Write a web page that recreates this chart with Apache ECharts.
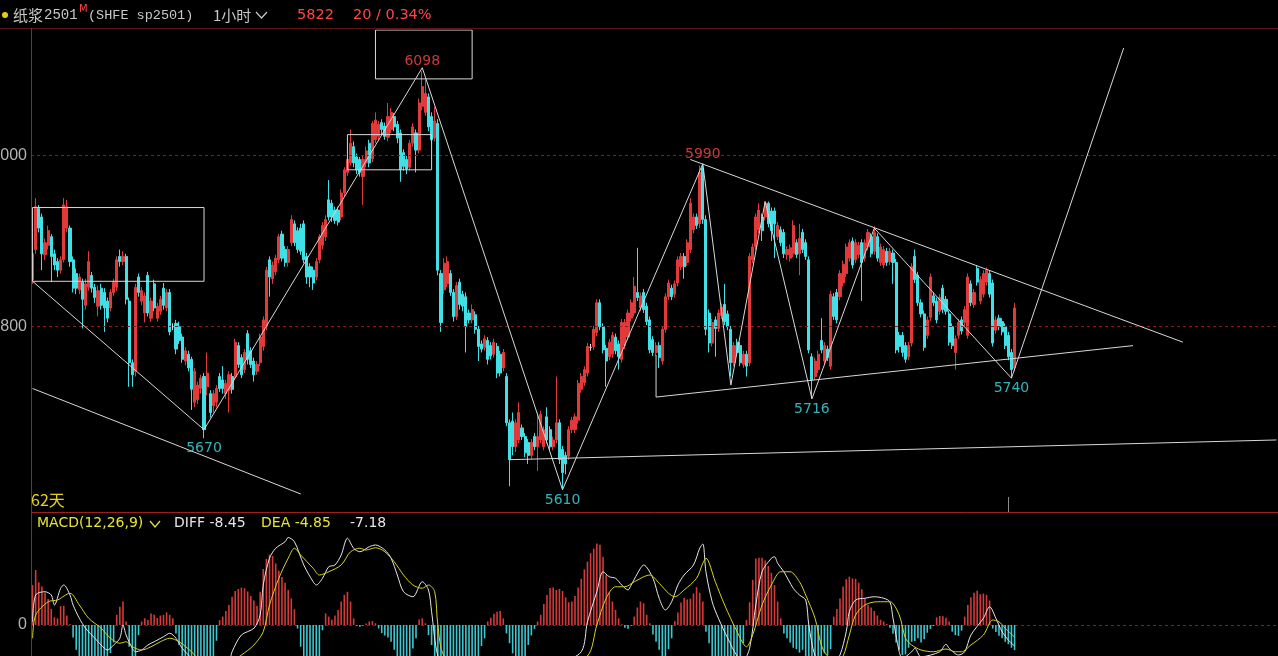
<!DOCTYPE html>
<html>
<head>
<meta charset="utf-8">
<style>
html, body { margin: 0; padding: 0; background: #000; }
#main { width: 1278px; height: 656px; }
</style>
<script src="https://cdn.jsdelivr.net/npm/echarts@6/dist/echarts.min.js"></script>
</head>
<body>
<div id="main"></div>
<script>
// hourly bars, [open, close, low, high]
const bars = [
  // first swing, down to 5670
  [5855,5885,5850,5890],[5890,5940,5885,5950],[5938,5915,5910,5942],[5928,5885,5866,5932],
  [5884,5898,5878,5903],[5895,5912,5890,5918],[5905,5882,5852,5908],[5885,5872,5866,5890],
  [5876,5866,5858,5880],[5866,5878,5862,5882],[5878,5942,5875,5950],[5915,5940,5910,5948],
  [5915,5876,5870,5918],[5878,5845,5840,5882],[5862,5845,5838,5868],[5843,5858,5838,5862],
  [5852,5832,5798,5856],[5825,5850,5820,5856],[5846,5876,5842,5888],[5860,5845,5840,5864],
  [5846,5834,5828,5850],[5824,5842,5812,5848],[5845,5825,5820,5850],[5840,5822,5794,5845],
  [5830,5810,5805,5834],[5822,5840,5818,5844],[5840,5852,5836,5856],[5846,5878,5842,5882],
  [5882,5876,5870,5890],[5876,5882,5872,5888],[5882,5832,5826,5885],[5830,5758,5730,5834],
  [5758,5744,5730,5762],[5748,5846,5742,5850],[5858,5840,5835,5862],[5830,5842,5825,5846],
  [5816,5836,5805,5840],[5860,5816,5812,5864],[5810,5830,5806,5834],[5850,5822,5818,5855],
  [5810,5824,5806,5828],[5818,5832,5814,5836],[5845,5825,5820,5851],[5822,5840,5818,5844],
  [5840,5794,5790,5844],[5800,5800,5796,5804],[5804,5774,5768,5808],[5800,5784,5780,5806],
  [5788,5762,5758,5792],[5760,5772,5755,5776],[5768,5752,5748,5772],[5762,5727,5703,5765],
  [5712,5748,5706,5752],
  // rally to 6098
  [5715,5732,5710,5736],[5728,5740,5722,5744],[5742,5680,5670,5746],[5730,5746,5720,5770],
  [5722,5700,5694,5726],[5708,5722,5700,5726],[5712,5728,5706,5732],[5742,5728,5724,5746],
  [5738,5728,5722,5754],[5722,5734,5716,5738],[5726,5744,5700,5748],[5742,5727,5722,5746],
  [5742,5782,5738,5786],[5778,5756,5752,5782],[5764,5744,5740,5768],[5750,5770,5746,5774],
  [5792,5762,5756,5796],[5772,5756,5752,5776],[5760,5744,5736,5764],[5748,5756,5744,5760],
  [5758,5788,5754,5792],[5777,5808,5772,5812],[5800,5866,5796,5870],[5878,5858,5835,5882],
  [5856,5872,5850,5876],[5864,5880,5860,5884],[5878,5905,5874,5908],[5908,5880,5876,5912],
  [5890,5875,5870,5894],[5875,5890,5870,5894],[5898,5925,5894,5930],[5920,5898,5894,5924],
  [5912,5890,5886,5916],[5915,5888,5884,5920],[5920,5878,5874,5924],[5882,5858,5850,5886],
  [5870,5858,5846,5874],[5866,5851,5843,5870],[5858,5876,5854,5880],[5878,5905,5874,5908],
  [5895,5918,5890,5922],[5905,5925,5900,5930],[5948,5928,5924,5971],[5944,5928,5922,5948],
  [5936,5924,5920,5940],[5936,5922,5918,5940],[5928,5956,5924,5960],[5956,5983,5952,5986],
  [5980,5995,5976,5998],[5991,6014,5988,6030],[6010,5991,5986,6016],[5998,5983,5978,6002],
  [5995,5980,5975,5998],[5975,5995,5942,6000],[5991,6005,5986,6010],[6014,5991,5986,6018],
  [5996,6037,5992,6040],
  // top and the fall to 5610
  [6018,6041,6014,6050],[6022,6036,6018,6040],[6038,6030,6024,6042],[6034,6022,6018,6038],
  [6021,6045,6016,6061],[6030,6050,6026,6055],[6045,6033,6028,6049],[6036,6020,6014,6040],
  [6026,5983,5969,6030],[6003,5987,5982,6007],[5995,5984,5978,5999],[5986,6014,5982,6018],
  [6014,6033,6010,6037],[6026,6006,5980,6030],[6006,6061,6002,6066],[6057,6080,6052,6098],
  [6050,6072,6046,6088],[6068,6033,6028,6072],[6045,6018,6014,6050],[6020,6040,6016,6056],
  [6037,5866,5860,6042],[5862,5805,5794,5866],[5843,5874,5838,5880],[5850,5876,5846,5882],
  [5862,5840,5836,5866],[5840,5812,5806,5844],[5812,5848,5808,5852],[5852,5826,5820,5856],
  [5838,5824,5818,5842],[5835,5800,5770,5840],[5816,5808,5804,5820],[5808,5820,5804,5826],
  [5814,5797,5792,5818],[5797,5777,5760,5801],[5780,5774,5770,5784],[5776,5786,5772,5790],
  [5784,5762,5756,5788],[5778,5766,5762,5782],[5768,5782,5764,5786],[5777,5746,5740,5781],
  [5768,5746,5742,5772],[5752,5770,5748,5774],[5742,5688,5684,5746],[5688,5645,5614,5692],
  [5690,5660,5650,5700],[5660,5688,5654,5692],[5668,5700,5664,5712],[5682,5672,5668,5686],
  [5672,5653,5648,5676],[5665,5650,5640,5669],[5650,5665,5646,5669],[5672,5660,5656,5676],
  [5660,5672,5632,5700],[5668,5698,5664,5702],
  // bottom and rebound to 5990
  [5660,5680,5656,5684],[5695,5668,5664,5706],[5680,5660,5656,5684],[5660,5668,5656,5672],
  [5668,5688,5664,5742],[5688,5645,5640,5692],[5657,5630,5610,5661],[5650,5640,5628,5654],
  [5649,5680,5645,5684],[5680,5691,5676,5695],[5680,5695,5676,5699],[5691,5734,5687,5738],
  [5727,5742,5723,5746],[5735,5750,5731,5754],[5746,5777,5742,5781],[5776,5776,5772,5780],
  [5777,5797,5773,5801],[5793,5828,5789,5832],[5828,5800,5796,5832],[5800,5773,5769,5804],
  [5775,5760,5730,5779],[5765,5782,5761,5786],[5768,5790,5764,5794],[5788,5772,5768,5792],
  [5780,5765,5750,5784],[5762,5805,5758,5809],[5778,5805,5774,5809],[5788,5816,5784,5820],
  [5810,5828,5806,5832],[5816,5847,5812,5858],[5840,5834,5830,5892],[5822,5836,5818,5840],
  [5840,5820,5816,5844],[5824,5806,5802,5828],[5808,5773,5769,5812],[5785,5770,5766,5789],
  [5770,5778,5766,5782],[5778,5764,5752,5782],[5760,5797,5756,5801],[5797,5835,5793,5839],
  [5835,5851,5831,5855],[5845,5835,5831,5849],[5838,5850,5834,5854],[5851,5878,5847,5882],
  [5870,5882,5866,5886],[5882,5870,5856,5886],[5875,5898,5871,5902],[5890,5944,5886,5950],
  [5913,5928,5909,5932],[5928,5918,5914,5932],[5920,5980,5915,5988],[5985,5925,5920,5990],
  [5925,5797,5790,5930],[5816,5781,5770,5820],[5781,5805,5777,5809],[5808,5798,5765,5812],
  [5798,5816,5794,5820],
  // triangle swings
  [5813,5823,5809,5827],[5826,5806,5802,5850],[5815,5800,5796,5819],[5797,5758,5742,5801],
  [5758,5778,5754,5782],[5782,5770,5766,5786],[5778,5758,5754,5782],[5756,5768,5752,5772],
  [5768,5754,5742,5772],[5758,5882,5754,5886],[5878,5893,5874,5897],[5893,5928,5889,5932],
  [5913,5936,5909,5944],[5928,5912,5900,5932],[5928,5944,5924,5946],[5944,5920,5916,5946],
  [5935,5912,5900,5939],[5935,5920,5880,5939],[5905,5918,5901,5922],[5913,5898,5894,5917],
  [5910,5885,5880,5914],[5884,5890,5878,5894],[5880,5892,5876,5896],[5885,5918,5881,5924],
  [5898,5884,5880,5902],[5885,5903,5860,5920],[5910,5890,5886,5914],[5898,5882,5878,5902],
  [5878,5773,5769,5882],[5765,5738,5716,5769],[5742,5760,5738,5764],[5750,5768,5746,5772],
  [5784,5773,5769,5810],[5760,5778,5756,5782],[5774,5764,5760,5778],[5754,5838,5750,5842],
  [5835,5812,5808,5839],[5840,5808,5804,5844],[5835,5862,5831,5866],[5851,5873,5847,5877],
  [5862,5893,5858,5897],[5880,5898,5876,5902],[5900,5872,5868,5904],[5878,5898,5874,5902],
  [5884,5895,5880,5899],[5898,5875,5830,5902],[5880,5898,5876,5902],[5893,5910,5889,5914],
  [5905,5885,5881,5909],[5888,5910,5884,5917],[5905,5880,5876,5909],[5875,5893,5871,5897],
  [5872,5890,5868,5894],[5888,5875,5871,5892],[5876,5888,5872,5892],[5886,5875,5850,5890],
  [5875,5773,5769,5879],[5790,5777,5770,5794],
  // last leg to 5740 and the final bar
  [5790,5770,5765,5794],[5778,5762,5758,5782],[5765,5778,5761,5782],[5781,5870,5777,5874],
  [5882,5855,5851,5890],[5860,5828,5824,5864],[5828,5815,5811,5832],[5815,5776,5772,5819],
  [5790,5808,5786,5812],[5811,5858,5807,5862],[5836,5828,5824,5840],[5830,5808,5804,5834],
  [5818,5834,5814,5838],[5845,5820,5816,5849],[5832,5818,5814,5836],[5815,5782,5778,5819],
  [5800,5778,5774,5804],[5770,5786,5750,5790],[5790,5805,5786,5809],[5808,5795,5791,5812],
  [5805,5820,5801,5824],[5790,5858,5786,5862],[5850,5828,5824,5854],[5826,5840,5822,5844],
  [5868,5852,5848,5872],[5830,5855,5826,5859],[5838,5862,5834,5866],[5852,5866,5848,5869],
  [5862,5838,5834,5866],[5851,5781,5777,5855],[5796,5808,5792,5812],[5810,5800,5796,5814],
  [5806,5794,5790,5810],[5800,5778,5774,5804],[5790,5765,5761,5794],[5770,5750,5740,5774],
  [5752,5822,5748,5828]
];

// MACD bar per hourly bar
const macdHist = [
  11.4,15.7,12.2,11.0,9.2,7.4,4.6,2.2,1.9,5.4,
  5.5,2.7,0.2,-3.6,-7.1,-9,-10,-11,-12,-12,
  -12,-11,-10,-10,-9,-8,-5,2.9,5.2,6.7,
  1.0,-6.2,-9.5,-10,-2.9,1.0,1.9,1.4,3.3,2.9,
  2.0,2.7,2.9,3.6,2.9,1.9,-2.4,-5.7,-9,-10,
  -11,-12,-12,-12,-11,-10,-9.5,-9,-8.9,-4.5,
  1.4,2.4,4.0,5.7,8.1,9.7,10.3,10.7,10.5,9.6,
  8.3,7.0,5.5,9.5,16,18.9,20.1,19.7,17.6,15.5,
  13.7,12.1,10,7.6,4.5,-1,-6.2,-9,-10,-11,
  -11,-10,-9,-1.5,3.3,2.4,1.5,2.7,4.3,6.7,
  8.6,9.5,6.7,1.9,-0.2,-0.5,-0.2,0.4,1.0,1.1,
  0.5,-1.0,-2.3,-3.0,-3.6,-4.8,-7.1,-9,-10,-10,
  -9.5,-9,-6.7,-3.8,1.6,1.9,0.5,-2.9,-5.7,-9,
  -10,-11,-12,-13,-13,-13,-12,-12,-11,-11,
  -10,-10,-9.5,-9,-6,-3.8,1.0,2.1,3.2,3.8,
  4.0,1.9,-2.4,-5.2,-8.1,-9.5,-10,-10,-9,-5.7,
  -3.0,-1.1,1.0,2.9,6.0,8.6,10.6,10.7,10.0,10.3,
  9.7,7.9,6.5,6.7,8.3,10.7,13.2,15.9,18.1,20.5,
  21.8,23.3,22.9,19.5,14.3,9.3,6.7,4.3,1.9,0.2,
  -0.8,-1.1,-0.2,2.4,5.0,6.7,6.2,2.9,0.5,-2.7,
  -4.8,-7.1,-9,-9.5,-6.9,-3.8,1.1,3.6,6.4,7.8,
  7.3,7.5,9.0,10.8,9.2,6.7,-1.9,-5.2,-9,-10,
  -11,-12,-12,-12,-11,-10,-9.5,-9,-5.2,1.4,
  6.5,12.9,19.0,19.2,19.2,18.4,16.9,14.9,11.4,6.7,
  1.9,-2.4,-3.8,-5.0,-6.5,-6.9,-7.9,-7.1,-9,-10,
  -10,-10,-10,-9.5,-8.1,-8.6,-6.9,2.4,4.6,7.6,
  11.0,13.1,13.8,13.3,13.2,12.1,10.2,7.6,5.7,5.0,
  4.0,2.7,1.5,1.0,0.3,-0.8,-2.5,-5.0,-7.1,-8.6,
  -8.4,-6.5,-4.8,-4.6,-3.8,-5.0,-4.1,-2.2,-1.1,-0.3,
  2.2,2.6,2.5,2.1,1.0,-1.9,-2.9,-3.1,-1.6,2.4,
  5.7,7.9,9.2,9.8,8.8,9.0,8.6,7.0,-1.0,-2.0,
  -3.1,-3.8,-4.8,-5.5,-6.5,-7.18
];

// DIFF / DEA read at [bar index, value]
const diffPts = [
  [0,1.3],[1,12],[4,13.3],[6,12],[7,8],[9,14.7],[10,16],[12,12],[13,8],[15,2.7],[17,-1.3],
  [20,-5.3],[22,-8],[24,-10],[26,-8],[28,-5.3],[29,0],[30,-4],[32,-9.3],[33,-10.7],[35,-10],
  [37,-8],[39,-6.7],[42,-4.7],[44,-3.3],[46,-5.3],[48,-9.3],[51,-13.3],[54,-17],[57,-19],
  [60,-18],[63,-15],[64,-10.7],[67,-4],[71,-1.3],[73,4],[74,16],[76,26.7],[78,30.7],[81,33.3],
  [82,35],[84,33.3],[87,24],[90,17.3],[91,16],[93,18.7],[95,23.3],[97,24],[99,28],[101,34.7],
  [103,30.7],[105,29.3],[108,31.3],[110,32],[113,30],[115,26.7],[117,20],[119,13.3],[122,11.3],
  [125,17.3],[127,14],[128,5.3],[130,-12.4],[133,-18],[139,-22],[148,-20],[156,-18],[169,-15],
  [176,-10.7],[178,1.3],[181,13.3],[183,21.3],[185,19.3],[187,18.7],[189,16],[191,14],[192,16],
  [195,22.7],[196,24],[199,18.7],[201,10.7],[203,6],[205,9.3],[207,16],[209,20],[212,24],
  [214,30.7],[215,32.4],[216,21.3],[218,9.3],[220,2.7],[223,-5.3],[226,-12.4],[228,-14],
  [230,-9.3],[232,8],[234,21.3],[237,26.7],[238,27.3],[239,24.7],[241,21.3],[244,14.7],
  [246,12],[248,10],[249,0],[251,-12.4],[254,-18],[257,-15],[259,-12],[261,-2.7],[262,5.3],
  [264,10],[267,10.7],[270,11.3],[273,10.7],[275,9.3],[276,2.7],[278,-10.7],[279,-13.3],
  [282,-10.7],[283,-9.3],[285,-12.7],[291,-10.7],[293,-7.7],[294,-9.3],[297,-12],[299,-10.7],
  [301,-4],[305,2.7],[307,7.3],[309,2.7],[311,-2.7],[313,-6],[315,-8.45]
];
const deaPts = [
  [0,-5.3],[1,4],[5,9.3],[8,10],[12,12.7],[15,8],[18,2.7],[22,-1.3],[25,-5.3],[28,-7.3],
  [30,-6.7],[32,-8.7],[35,-10],[38,-8.7],[41,-6.7],[44,-5.3],[47,-6.7],[51,-10.7],[53,-13.3],
  [58,-16],[63,-15],[67,-12],[71,-8],[74,-2.7],[76,8],[79,18.7],[82,26.7],[84,30.7],[86,28],
  [90,22.7],[92,20],[95,21.3],[99,24],[102,29.3],[105,30.7],[107,30],[110,30.9],[113,29.3],
  [116,25.3],[119,20],[122,16],[125,14.7],[127,16],[129,13.3],[130,0],[132,-12.4],[139,-18],
  [150,-19],[169,-16],[178,-12.4],[181,0],[184,10.7],[187,15.3],[190,15.3],[193,17.3],[198,20],
  [201,16.7],[204,12.7],[206,11.3],[209,14],[213,18.7],[215,24.7],[216,26.7],[219,17.3],
  [222,8],[226,-2.7],[229,-8.7],[231,-4],[234,8],[237,16],[240,21.3],[243,21.3],[246,17.3],
  [248,12],[251,2.7],[253,-8],[255,-12.4],[258,-14],[260,-12.4],[262,-4],[264,4],[267,8],
  [271,9.3],[275,9.3],[278,4],[280,-5.3],[282,-8],[285,-10],[289,-10.7],[293,-9.6],[296,-10.7],
  [298,-10.7],[301,-8],[305,-4],[308,2],[310,1.3],[312,-1.3],[315,-4.85]
];

const slotCount = 400; // bars plus empty space on the right
const slots = Array.from({ length: slotCount }, (_, i) => String(i));
const priceLevels = [5800, 6000];
const highPivots = [[125, 6098], [215, 5990]];
const lowPivots = [[55, 5670], [170, 5610], [250, 5716], [314, 5740]];

// hand-drawn lines, [bar index, price]
const zigzag = [[0,5853],[55,5680],[125,6102],[170,5610],[215,5990],[224,5732],[235,5946],
  [250,5716],[270,5915],[314,5740],[350,6125]];
const trendLines = [
  [[211,5995],[369,5782]],
  [[200,5767],[200,5718],[353,5778]],
  [[153,5645],[399,5668]],
  [[0,5728],[86,5605]]
];
const boxes = [[0,55,5853,5939],[101,128,5983,6024],[110,141,6089,6146]];

const RED = '#e23a3a', CYAN = '#40e0e6', FRAME = '#a01e1e';

let chart = echarts.init(document.getElementById('main'));

function drawLine(points) {
  return {
    type: 'line', xAxisIndex: 0, yAxisIndex: 0, data: points,
    symbol: 'none', silent: true, animation: false, z: 5,
    lineStyle: { color: '#d8d8d8', width: 1 }
  };
}
function boxPath(b) {
  return [[b[0], b[3]], [b[1], b[3]], [b[1], b[2]], [b[0], b[2]], [b[0], b[3]]];
}
function txt(x, y, text, fill, font) {
  return { type: 'text', x: x, y: y, z: 100,
    style: { text: text, fill: fill, font: font, verticalAlign: 'middle', textVerticalAlign: 'middle' } };
}

const series = [
  {
    type: 'candlestick', xAxisIndex: 0, yAxisIndex: 0, data: bars,
    barWidth: 2.6, z: 3,
    itemStyle: { color: RED, color0: CYAN, borderColor: RED, borderColor0: CYAN,
      borderColorDoji: '#dcdcdc', borderWidth: 1 },
    markLine: {
      symbol: 'none', silent: true, label: { show: false }, animation: false,
      lineStyle: { color: '#8a1c1c', type: [3, 3], width: 1 },
      data: priceLevels.map(v => ({ yAxis: v }))
    }
  },
  drawLine(zigzag)
];
trendLines.forEach(l => series.push(drawLine(l)));
boxes.forEach(b => series.push(drawLine(boxPath(b))));
series.push({
  type: 'scatter', xAxisIndex: 0, yAxisIndex: 0, data: highPivots, symbolSize: 1, z: 6,
  itemStyle: { color: 'transparent' },
  label: { show: true, position: 'top', distance: 2, color: '#ff4646',
    fontFamily: 'DejaVu Sans', fontSize: 14, formatter: p => p.value[1] }
});
series.push({
  type: 'scatter', xAxisIndex: 0, yAxisIndex: 0, data: lowPivots, symbolSize: 1, z: 6,
  itemStyle: { color: 'transparent' },
  label: { show: true, position: 'bottom', distance: 3, color: CYAN,
    fontFamily: 'DejaVu Sans', fontSize: 14, formatter: p => p.value[1] }
});
series.push({
  type: 'bar', xAxisIndex: 1, yAxisIndex: 1, barWidth: 1.6,
  data: macdHist.map(v => ({ value: v, itemStyle: { color: v >= 0 ? '#d43a3a' : '#3cc8d0' } })),
  markLine: {
    symbol: 'none', silent: true, label: { show: false }, animation: false, z: 1,
    lineStyle: { color: '#8a1c1c', type: [3, 3], width: 1 },
    data: [{ yAxis: 0 }]
  }
});
series.push({
  type: 'line', xAxisIndex: 1, yAxisIndex: 2, data: diffPts, symbol: 'none', smooth: 0.3,
  lineStyle: { color: '#e6e6e6', width: 1 }, z: 4
});
series.push({
  type: 'line', xAxisIndex: 1, yAxisIndex: 2, data: deaPts, symbol: 'none', smooth: 0.3,
  lineStyle: { color: '#d4d41e', width: 1 }, z: 4
});

let option = {
  backgroundColor: '#000',
  animation: false,
  grid: [
    { left: 31, right: 0, top: 30, height: 482, outerBoundsMode: 'none', containLabel: false },
    { left: 31, right: 0, top: 513, height: 143, outerBoundsMode: 'none', containLabel: false }
  ],
  xAxis: [0, 1].map(g => ({
    type: 'category', gridIndex: g, data: slots, boundaryGap: true,
    axisLine: { show: false }, axisTick: { show: false }, axisLabel: { show: false },
    splitLine: { show: false }
  })),
  yAxis: [
    {
      gridIndex: 0, min: 5584, max: 6146, scale: true,
      axisLine: { show: false }, axisTick: { show: false }, splitLine: { show: false },
      axisLabel: { customValues: priceLevels, color: '#b4b4b4', fontSize: 16,
        fontFamily: 'Liberation Sans', margin: 4, formatter: v => String(v) }
    },
    {
      gridIndex: 1, min: -8.86, max: 32,
      axisLine: { show: false }, axisTick: { show: false }, splitLine: { show: false },
      axisLabel: { customValues: [0], color: '#b4b4b4', fontSize: 16,
        fontFamily: 'Liberation Sans', margin: 4, formatter: v => String(v) }
    },
    {
      gridIndex: 1, min: -12.4, max: 44.8, show: false,
      splitLine: { show: false }
    }
  ],
  series: series,
  graphic: [
    { type: 'line', z: 90, shape: { x1: 0, y1: 28.5, x2: 1278, y2: 28.5 }, style: { stroke: '#5a1212', lineWidth: 1 } },
    { type: 'line', z: 90, shape: { x1: 31.5, y1: 28, x2: 31.5, y2: 656 }, style: { stroke: FRAME, lineWidth: 1 } },
    { type: 'line', z: 90, shape: { x1: 31, y1: 512.5, x2: 1278, y2: 512.5 }, style: { stroke: FRAME, lineWidth: 1 } },
    { type: 'line', z: 90, shape: { x1: 1008.5, y1: 497, x2: 1008.5, y2: 512 }, style: { stroke: '#8c8c8c', lineWidth: 1 } },
    { type: 'circle', z: 100, shape: { cx: 5, cy: 15, r: 3 }, style: { fill: '#e6d200' } },
    txt(13, 15, '纸浆', '#c8c8c8', '15px "Noto Sans CJK SC"'),
    txt(44, 15, '2501', '#c8c8c8', '14px "Liberation Mono"'),
    txt(79, 9, 'M', '#ff4646', '10px "DejaVu Sans"'),
    txt(88, 15, '(SHFE sp2501)', '#c8c8c8', '13.5px "Liberation Mono"'),
    txt(213, 15, '1小时', '#c8c8c8', '15px "Noto Sans CJK SC"'),
    { type: 'polyline', z: 100, shape: { points: [[256, 12], [261.5, 18], [267, 12]] },
      style: { stroke: '#c8c8c8', lineWidth: 1.2, fill: null } },
    txt(297, 15, '5822', '#ff4646', '14.5px "DejaVu Sans"'),
    txt(353, 15, '20 / 0.34%', '#ff4646', '14.5px "DejaVu Sans"'),
    txt(31, 500, '62天', '#e6d21e', '16px "Noto Sans CJK SC"'),
    txt(37, 523, 'MACD(12,26,9)', '#e6e632', '14px "DejaVu Sans"'),
    { type: 'polyline', z: 100, shape: { points: [[150, 521], [155, 527], [160, 521]] },
      style: { stroke: '#e6e632', lineWidth: 1.2, fill: null } },
    txt(174, 523, 'DIFF -8.45', '#e6e6e6', '14px "DejaVu Sans"'),
    txt(261, 523, 'DEA -4.85', '#e6e632', '14px "DejaVu Sans"'),
    txt(350, 523, '-7.18', '#e6e6e6', '14px "DejaVu Sans"')
  ]
};

option && chart.setOption(option);
</script>
</body>
</html>
